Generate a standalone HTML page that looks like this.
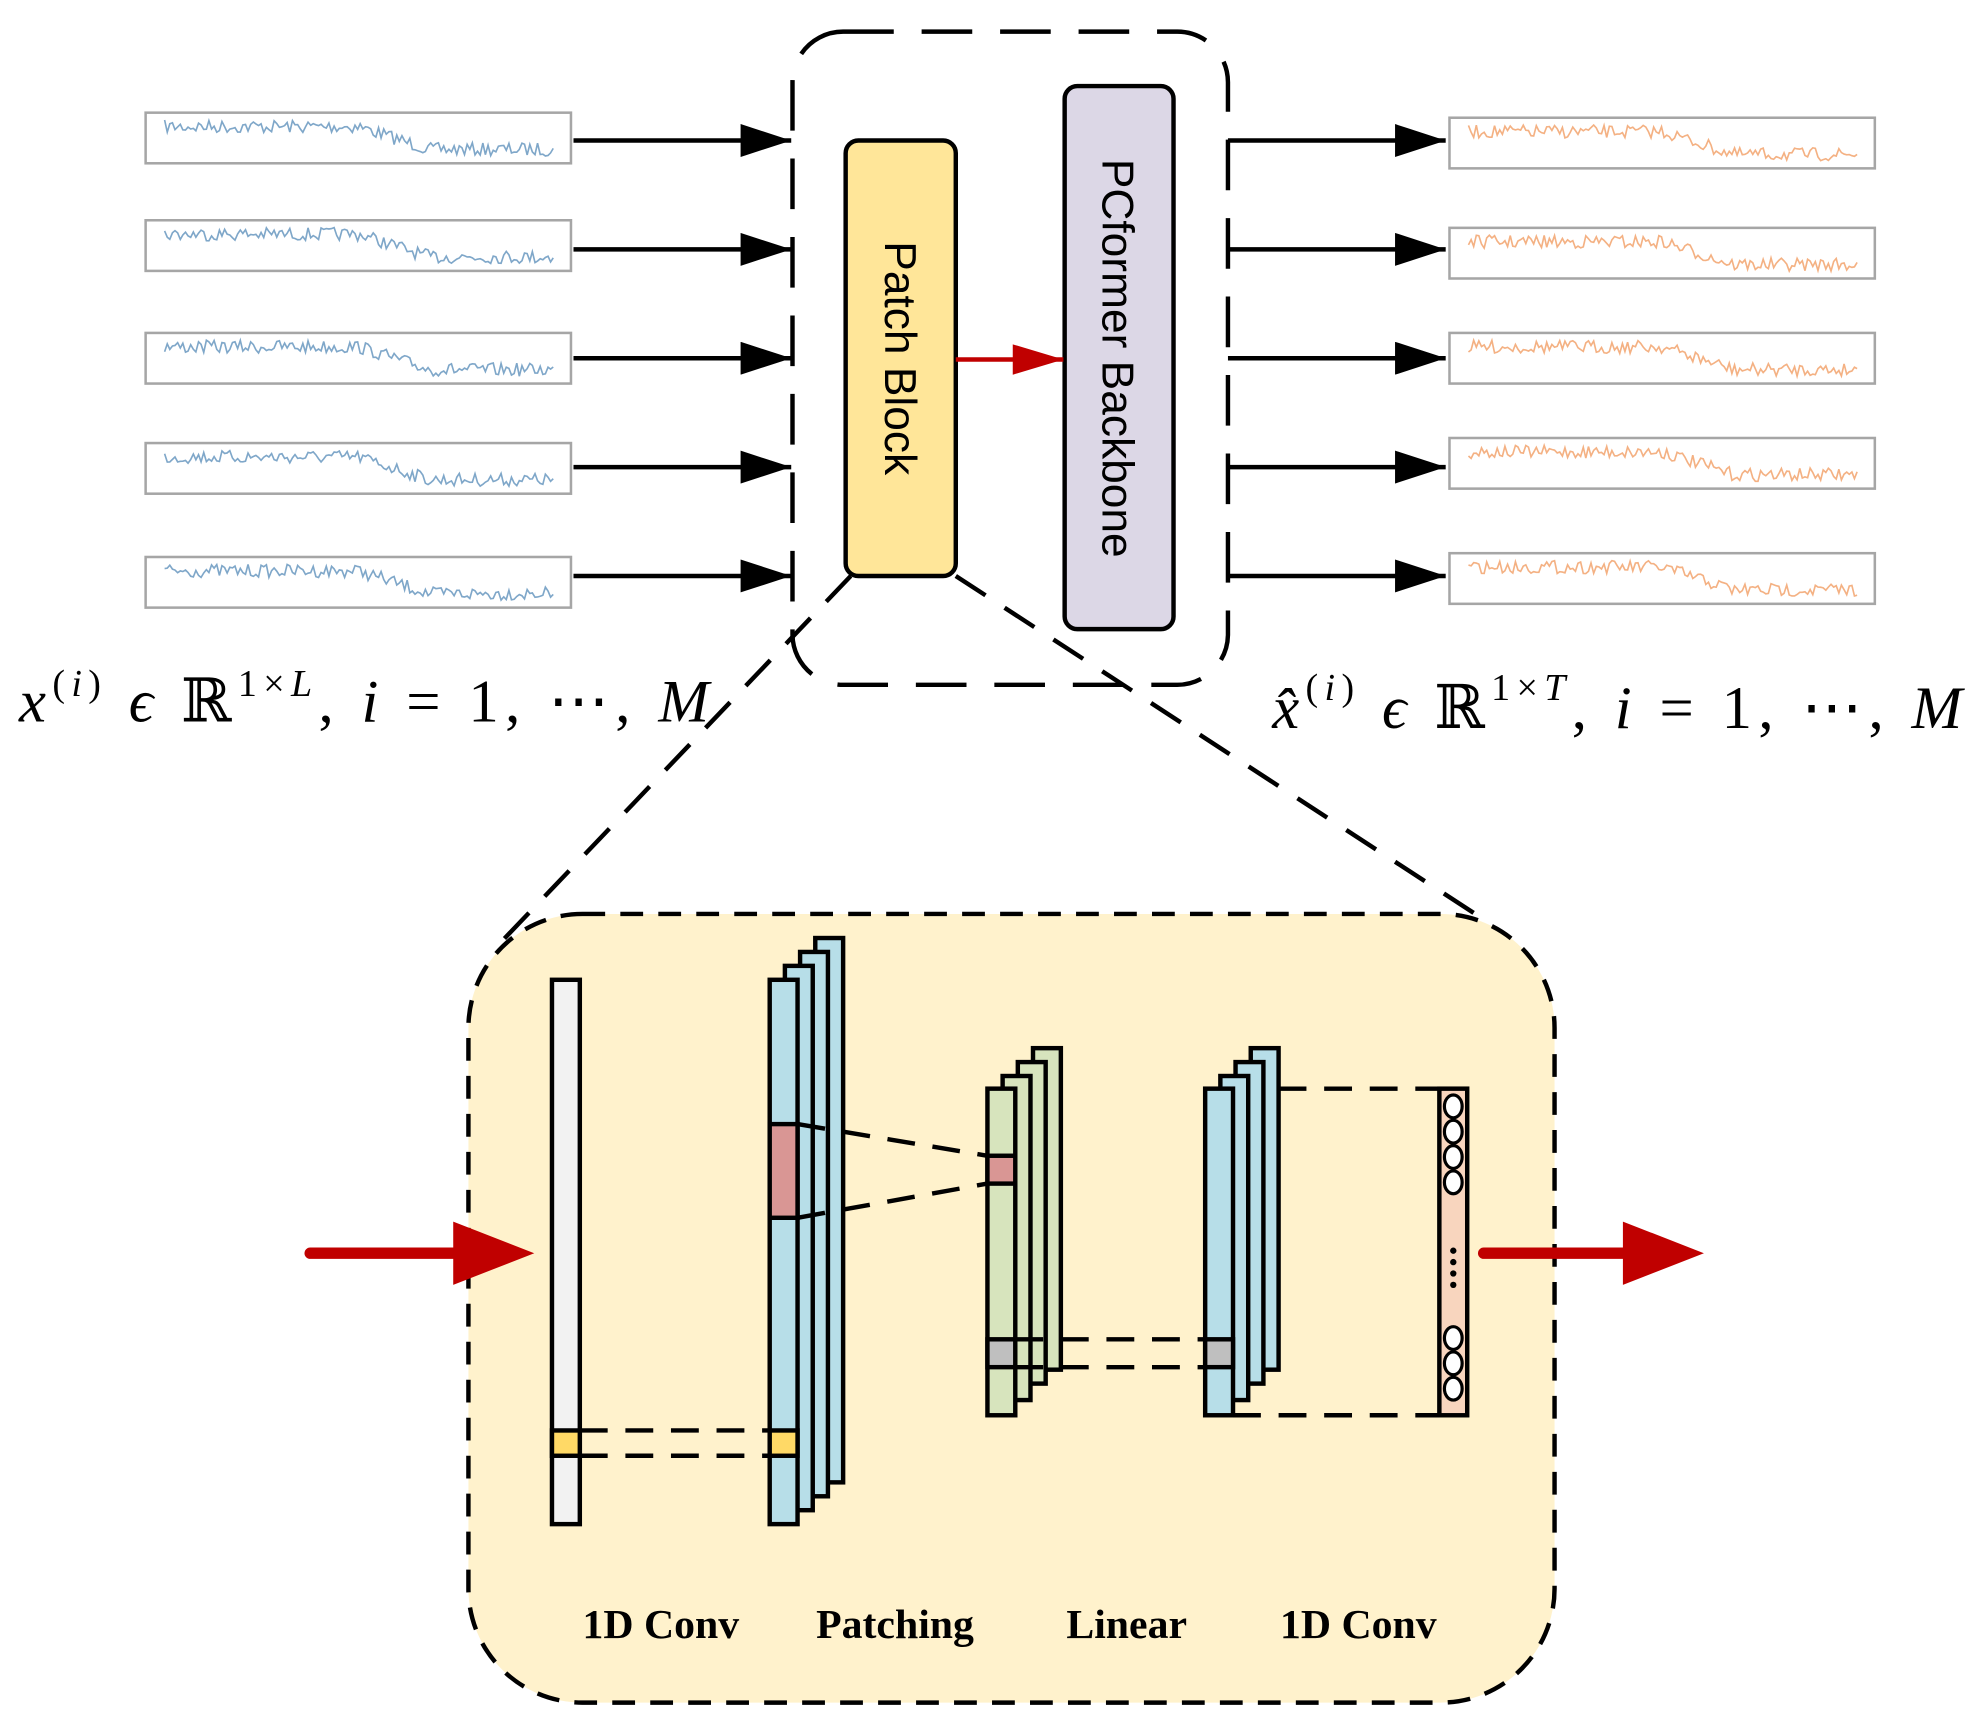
<!DOCTYPE html>
<html><head><meta charset="utf-8"><style>
html,body{margin:0;padding:0;background:#fff;width:1985px;height:1733px;overflow:hidden}
svg{display:block}
.f{font-family:"Liberation Serif","DejaVu Serif",serif}
.i{font-style:italic}
</style></head><body>
<svg id="s" width="1985" height="1733" viewBox="0 0 1568 1369" xmlns="http://www.w3.org/2000/svg">
<defs>
<marker id="ah" viewBox="0 0 10 10" refX="10" refY="5" markerWidth="40" markerHeight="26" markerUnits="userSpaceOnUse" orient="auto" preserveAspectRatio="none"><path d="M0,0L10,5L0,10z" fill="#000"/></marker>
</defs>
<rect x="626" y="25" width="344" height="516" rx="40" fill="none" stroke="#000" stroke-width="3.5" stroke-dasharray="40,22"/>
<line x1="672" y1="455" x2="395" y2="745" stroke="#000" stroke-width="3.5" stroke-dasharray="28,18"/>
<line x1="755" y1="455" x2="1170" y2="725" stroke="#000" stroke-width="3.5" stroke-dasharray="28,18"/>
<rect x="370" y="722" width="858" height="623" rx="90" fill="#FFF2CC" stroke="#000" stroke-width="3.5" stroke-dasharray="18,12"/>
<g id="series"></g>
<g stroke="#000" stroke-width="3.5" fill="none">
<line x1="453" y1="111" x2="625" y2="111" marker-end="url(#ah)"/>
<line x1="453" y1="197" x2="625" y2="197" marker-end="url(#ah)"/>
<line x1="453" y1="283" x2="625" y2="283" marker-end="url(#ah)"/>
<line x1="453" y1="369" x2="625" y2="369" marker-end="url(#ah)"/>
<line x1="453" y1="455" x2="625" y2="455" marker-end="url(#ah)"/>
<line x1="970" y1="111" x2="1142" y2="111" marker-end="url(#ah)"/>
<line x1="970" y1="197" x2="1142" y2="197" marker-end="url(#ah)"/>
<line x1="970" y1="283" x2="1142" y2="283" marker-end="url(#ah)"/>
<line x1="970" y1="369" x2="1142" y2="369" marker-end="url(#ah)"/>
<line x1="970" y1="455" x2="1142" y2="455" marker-end="url(#ah)"/>
</g>
<rect x="668" y="111" width="87" height="344" rx="10" fill="#FFE699" stroke="#000" stroke-width="3.5"/>
<rect x="841" y="68" width="86" height="429" rx="10" fill="#DCD7E6" stroke="#000" stroke-width="3.5"/>
<text transform="translate(699,283) rotate(90)" text-anchor="middle" font-family="Liberation Sans,sans-serif" font-size="35">Patch Block</text>
<text transform="translate(871,283) rotate(90)" text-anchor="middle" font-family="Liberation Sans,sans-serif" font-size="35">PCformer Backbone</text>
<line x1="755" y1="284" x2="840" y2="284" stroke="#C00000" stroke-width="3.5"/>
<path d="M800,272L840,284L800,296z" fill="#C00000"/>
<text x="15" y="570" class="f" font-size="48" textLength="545" lengthAdjust="spacing"><tspan class="i">x</tspan><tspan font-size="30" dy="-20">(<tspan class="i">i</tspan>)</tspan><tspan dy="20"> <tspan class="i">ϵ</tspan> ℝ</tspan><tspan font-size="30" dy="-20">1×<tspan class="i">L</tspan></tspan><tspan dy="20">, <tspan class="i">i</tspan> = 1, ⋯, <tspan class="i">M</tspan></tspan></text>
<text x="1005" y="575" class="f" font-size="48" textLength="545" lengthAdjust="spacing"><tspan class="i">x̂</tspan><tspan font-size="30" dy="-22">(<tspan class="i">i</tspan>)</tspan><tspan dy="22"> <tspan class="i">ϵ</tspan> ℝ</tspan><tspan font-size="30" dy="-22">1×<tspan class="i">T</tspan></tspan><tspan dy="22">, <tspan class="i">i</tspan> = 1, ⋯, <tspan class="i">M</tspan></tspan></text>
<line x1="245" y1="990" x2="365" y2="990" stroke="#C00000" stroke-width="9" stroke-linecap="round"/>
<path d="M358,965L422,990L358,1015z" fill="#C00000"/>
<line x1="1172" y1="990" x2="1290" y2="990" stroke="#C00000" stroke-width="9" stroke-linecap="round"/>
<path d="M1282,965L1346,990L1282,1015z" fill="#C00000"/>
<g stroke="#000" stroke-width="3.5">
<rect x="436" y="774" width="22" height="430" fill="#F2F2F2"/>
<rect x="436" y="1130" width="22" height="20" fill="#FFD966"/>
<rect x="644" y="741" width="22" height="430" fill="#B7DEE8"/>
<rect x="632" y="752" width="22" height="430" fill="#B7DEE8"/>
<rect x="620" y="763" width="22" height="430" fill="#B7DEE8"/>
<rect x="608" y="774" width="22" height="430" fill="#B7DEE8"/>
<rect x="608" y="888" width="22" height="74" fill="#D99694"/>
<rect x="608" y="1130" width="22" height="20" fill="#FFD966"/>
<rect x="816" y="828" width="22" height="254" fill="#D7E4BD"/>
<rect x="804" y="839" width="22" height="254" fill="#D7E4BD"/>
<rect x="792" y="850" width="22" height="256" fill="#D7E4BD"/>
<rect x="780" y="860" width="22" height="258" fill="#D7E4BD"/>
<rect x="780" y="913" width="22" height="22" fill="#D99694"/>
<rect x="780" y="1058" width="22" height="22" fill="#BFBFBF"/>
<rect x="988" y="828" width="22" height="254" fill="#B7DEE8"/>
<rect x="976" y="839" width="22" height="254" fill="#B7DEE8"/>
<rect x="964" y="850" width="22" height="256" fill="#B7DEE8"/>
<rect x="952" y="860" width="22" height="258" fill="#B7DEE8"/>
<rect x="952" y="1058" width="22" height="22" fill="#BFBFBF"/>
<rect x="1137" y="860" width="22" height="258" fill="#F8D5BE"/>
</g>
<g stroke="#000" stroke-width="3.5" stroke-dasharray="22,14" fill="none">
<line x1="458" y1="1130" x2="608" y2="1130"/><line x1="458" y1="1150" x2="608" y2="1150"/>
<line x1="630" y1="888" x2="780" y2="913"/><line x1="630" y1="962" x2="780" y2="935"/>
<line x1="802" y1="1058" x2="952" y2="1058"/><line x1="802" y1="1080" x2="952" y2="1080"/>
<line x1="1010" y1="860" x2="1137" y2="860"/><line x1="974" y1="1118" x2="1137" y2="1118"/>
</g>
<g fill="#fff" stroke="#000" stroke-width="2.5">
<ellipse cx="1148" cy="874" rx="7" ry="9"/><ellipse cx="1148" cy="894" rx="7" ry="9"/><ellipse cx="1148" cy="914" rx="7" ry="9"/><ellipse cx="1148" cy="934" rx="7" ry="9"/>
<ellipse cx="1148" cy="1057" rx="7" ry="9"/><ellipse cx="1148" cy="1077" rx="7" ry="9"/><ellipse cx="1148" cy="1097" rx="7" ry="9"/>
</g>
<g fill="#000"><circle cx="1148" cy="988" r="2.5"/><circle cx="1148" cy="997" r="2.5"/><circle cx="1148" cy="1006" r="2.5"/><circle cx="1148" cy="1015" r="2.5"/></g>
<g font-family="Liberation Serif,serif" font-weight="bold" font-size="33" text-anchor="middle">
<text x="522" y="1294">1D Conv</text><text x="707" y="1294">Patching</text><text x="890" y="1294">Linear</text><text x="1073" y="1294">1D Conv</text>
</g>
</svg>
<script>
(function(){
var g=document.getElementById('series'),ns='http://www.w3.org/2000/svg';
var seed=7;function r(){seed=(seed*16807)%2147483647;return seed/2147483647;}
function box(x,y,h,col){
 var rc=document.createElementNS(ns,'rect');rc.setAttribute('x',x);rc.setAttribute('y',y);rc.setAttribute('width',336);rc.setAttribute('height',h);
 rc.setAttribute('fill','#fff');rc.setAttribute('stroke','#A6A6A6');rc.setAttribute('stroke-width','2');g.appendChild(rc);
 var pts=[],n=150;for(var i=0;i<n;i++){var t=i/(n-1);var base=t<0.5?0.2:(t<0.68?0.2+(t-0.5)*3.3:0.8);
 var v=base+(r()-0.5)*0.35;if(v<0)v=0;if(v>1)v=1;var px=x+15+t*307;var py=y+5+v*(h-10);pts.push(px.toFixed(1)+','+py.toFixed(1));}
 var pl=document.createElementNS(ns,'polyline');pl.setAttribute('points',pts.join(' '));pl.setAttribute('fill','none');
 pl.setAttribute('stroke',col);pl.setAttribute('stroke-width','1.3');g.appendChild(pl);}
[89,174,263,350,440].forEach(function(y){box(115,y,40,'#7FA7C9');});
[93,180,263,346,437].forEach(function(y){box(1145,y,40,'#F4B183');});
})();
</script>
</body></html>
